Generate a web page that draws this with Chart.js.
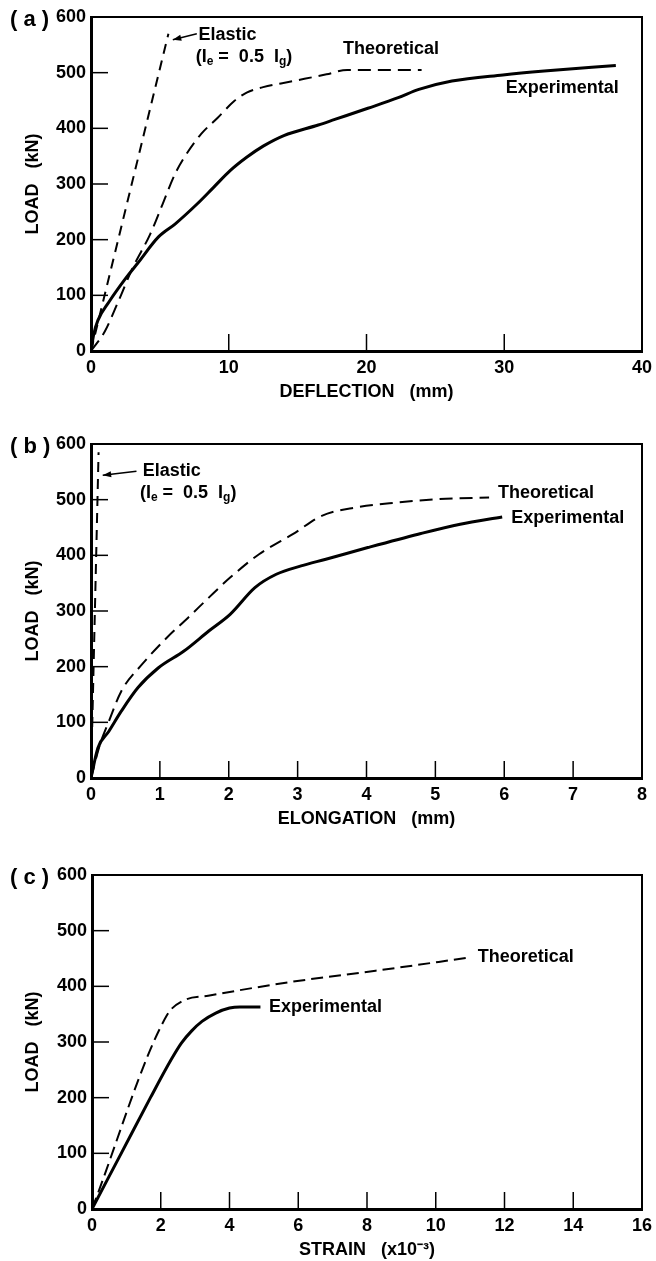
<!DOCTYPE html>
<html>
<head>
<meta charset="utf-8">
<script src="https://cdn.jsdelivr.net/npm/chart.js@4.4.1/dist/chart.umd.min.js"></script>
<style>
  body { margin: 0; background: #fff; width: 656px; height: 1261px; position: relative; overflow: hidden; }
  canvas { position: absolute; left: 0; }
</style>
</head>
<body>
<canvas id="chart-a" width="656" height="403" style="top:0px"></canvas>
<canvas id="chart-b" width="656" height="403" style="top:427px"></canvas>
<canvas id="chart-c" width="656" height="403" style="top:858px"></canvas>
<script>
// (a) load vs deflection
const aExpDefl = [0, 0.2, 0.5, 1.3, 2.5, 3.4, 4.9, 6.1, 7.7, 8.9, 10.1, 11.3, 12.5, 14.0, 16.5, 17.7, 20.1, 22.3, 23.8, 26.2, 29.9, 32.9, 38.1];
const aExpLoad = [0, 30, 55, 88, 130, 158, 205, 228, 264, 294, 324, 348, 368, 387, 406, 416, 436, 455, 470, 485, 496, 503, 513];
const aTheoDefl = [0, 1, 2, 3, 4.3, 5.2, 6.1, 6.75, 8, 9.2, 10.4, 11.3, 12.5, 14.7, 17.1, 18.6, 24];
const aTheoLoad = [0, 35, 90, 148, 210, 264, 318, 347, 390, 419, 449, 464, 474, 485, 497, 505, 505];
const aElasDefl = [0, 5.62];
const aElasLoad = [0, 570];

// (b) load vs elongation
const bExpElong = [0, 0.1, 0.26, 0.44, 0.68, 0.98, 1.35, 1.71, 2.02, 2.38, 2.69, 3.05, 3.41, 4.02, 4.75, 5.36, 5.97];
const bExpLoad = [0, 54, 84, 120, 162, 198, 228, 264, 294, 342, 366, 381, 393, 414, 438, 456, 469];
const bTheoElong = [0, 0.13, 0.26, 0.44, 0.74, 1.1, 1.41, 1.71, 2.02, 2.44, 2.93, 3.35, 3.84, 4.45, 5.05, 5.78];
const bTheoLoad = [0, 60, 102, 156, 204, 252, 288, 324, 360, 402, 438, 471, 486, 495, 501, 504];
const bElasElong = [0, 0.11];
const bElasLoad = [0, 585];

// (c) load vs strain (x10^-3)
const cExpStrain = [0, 0.85, 1.7, 2.3, 2.6, 2.9, 3.2, 3.6, 4.0, 4.3, 4.9];
const cExpLoad = [0, 100, 200, 268, 298, 320, 337, 352, 361, 363, 363];
const cTheoStrain = [0, 2.17, 2.65, 3.38, 5.8, 8.25, 10.9];
const cTheoLoad = [0, 347, 374, 383, 408, 428, 451];

const FONT = "'Liberation Sans', Arial, Helvetica, sans-serif";

Chart.defaults.font.family = FONT;
Chart.defaults.font.size = 18;
Chart.defaults.font.weight = 'bold';
Chart.defaults.color = '#000';

function pts(xs, ys) {
  return xs.map((v, i) => ({ x: v, y: ys[i] }));
}

function solid(xs, ys) {
  return {
    data: pts(xs, ys),
    borderColor: '#000',
    borderWidth: 3,
    pointRadius: 0,
    cubicInterpolationMode: 'monotone',
    fill: false,
  };
}

function dashed(xs, ys, dash) {
  return {
    data: pts(xs, ys),
    borderColor: '#000',
    borderWidth: 2,
    borderDash: dash,
    pointRadius: 0,
    cubicInterpolationMode: 'monotone',
    fill: false,
  };
}

// box on top/right plus inward tick marks
const frameTicks = {
  id: 'frameTicks',
  afterDatasetsDraw(chart) {
    const { ctx, chartArea, scales } = chart;
    const { left, right, top, bottom } = chartArea;
    ctx.save();
    ctx.strokeStyle = '#000';
    ctx.lineWidth = 2;
    ctx.beginPath();
    ctx.moveTo(left, top);
    ctx.lineTo(right, top);
    ctx.lineTo(right, bottom);
    ctx.stroke();
    ctx.lineWidth = 1.5;
    scales.x.ticks.forEach(t => {
      if (t.value <= scales.x.min || t.value >= scales.x.max) return;
      const px = scales.x.getPixelForValue(t.value);
      ctx.beginPath();
      ctx.moveTo(px, bottom);
      ctx.lineTo(px, bottom - 17);
      ctx.stroke();
    });
    scales.y.ticks.forEach(t => {
      if (t.value <= scales.y.min || t.value >= scales.y.max) return;
      const py = scales.y.getPixelForValue(t.value);
      ctx.beginPath();
      ctx.moveTo(left, py);
      ctx.lineTo(left + 17, py);
      ctx.stroke();
    });
    ctx.restore();
  }
};

function drawRich(ctx, parts, px, py) {
  let cx = px;
  parts.forEach(p => {
    const sub = p[1];
    ctx.font = sub ? 'bold 12px ' + FONT : 'bold 18px ' + FONT;
    ctx.fillText(p[0], cx, sub ? py + 5 : py);
    cx += ctx.measureText(p[0]).width;
  });
}

// text notes and arrows, placed in data units
const notes = {
  id: 'notes',
  afterDraw(chart, args, opts) {
    const { ctx, chartArea, scales } = chart;
    ctx.save();
    ctx.fillStyle = '#000';
    ctx.strokeStyle = '#000';
    ctx.textBaseline = 'middle';
    ctx.textAlign = 'left';
    ctx.font = 'bold 22px ' + FONT;
    ctx.fillText(opts.panel, 10, chartArea.top + 3);
    (opts.items || []).forEach(it => {
      const px = scales.x.getPixelForValue(it.x);
      const py = scales.y.getPixelForValue(it.y);
      if (it.arrowTo) {
        const hx = scales.x.getPixelForValue(it.arrowTo[0]);
        const hy = scales.y.getPixelForValue(it.arrowTo[1]);
        const ang = Math.atan2(hy - py, hx - px);
        ctx.lineWidth = 1.5;
        ctx.beginPath();
        ctx.moveTo(px, py);
        ctx.lineTo(hx, hy);
        ctx.stroke();
        ctx.beginPath();
        ctx.moveTo(hx, hy);
        ctx.lineTo(hx - 9 * Math.cos(ang - 0.35), hy - 9 * Math.sin(ang - 0.35));
        ctx.lineTo(hx - 9 * Math.cos(ang + 0.35), hy - 9 * Math.sin(ang + 0.35));
        ctx.closePath();
        ctx.fill();
      } else {
        drawRich(ctx, it.parts, px, py);
      }
    });
    ctx.restore();
  }
};

const elasticNote = [['(I'], ['e', true], [' =  0.5  I'], ['g', true], [')']];

function createChart(id, cfg) {
  const ctx = document.getElementById(id).getContext('2d');
  return new Chart(ctx, {
    type: 'line',
    data: { datasets: cfg.datasets },
    options: {
      responsive: false,
      animation: false,
      layout: { padding: { top: 17, right: 14, left: 0, bottom: 0 } },
      plugins: {
        legend: { display: false },
        tooltip: { enabled: false },
        notes: { panel: cfg.panel, items: cfg.notes },
      },
      scales: {
        x: {
          type: 'linear',
          min: 0,
          max: cfg.xMax,
          grid: { display: false, drawTicks: false, tickLength: 0 },
          border: { width: 3, color: '#000' },
          ticks: { stepSize: cfg.xStep, padding: 6, maxRotation: 0 },
          title: { display: true, text: cfg.xTitle, padding: { top: 0, bottom: 0 } },
          afterFit: s => { s.height = 52; s.paddingRight = 0; s.paddingLeft = 0; },
        },
        y: {
          type: 'linear',
          min: 0,
          max: 600,
          grid: { display: false, drawTicks: false, tickLength: 0 },
          border: { width: 3, color: '#000' },
          ticks: { stepSize: 100, padding: 5 },
          title: { display: true, text: 'LOAD   (kN)', padding: { top: 22, bottom: 0 } },
          afterFit: s => { s.width = cfg.yWidth; s.paddingTop = 0; s.paddingBottom = 0; },
        },
      },
    },
    plugins: [frameTicks, notes],
  });
}

const chartA = createChart('chart-a', {
  panel: '( a )',
  xMax: 40, xStep: 10, yWidth: 91,
  xTitle: 'DEFLECTION   (mm)',
  datasets: [
    solid(aExpDefl, aExpLoad),
    dashed(aTheoDefl, aTheoLoad, [13, 7]),
    dashed(aElasDefl, aElasLoad, [10, 7]),
  ],
  notes: [
    { x: 7.68, y: 570, arrowTo: [5.94, 559] },
    { x: 7.8, y: 567, parts: [['Elastic']] },
    { x: 7.6, y: 528, parts: elasticNote },
    { x: 18.3, y: 542, parts: [['Theoretical']] },
    { x: 30.1, y: 472, parts: [['Experimental']] },
  ],
});

const chartB = createChart('chart-b', {
  panel: '( b )',
  xMax: 8, xStep: 1, yWidth: 91,
  xTitle: 'ELONGATION   (mm)',
  datasets: [
    solid(bExpElong, bExpLoad),
    dashed(bTheoElong, bTheoLoad, [13, 7]),
    dashed(bElasElong, bElasLoad, [10, 7]),
  ],
  notes: [
    { x: 0.66, y: 551, arrowTo: [0.17, 544] },
    { x: 0.75, y: 551, parts: [['Elastic']] },
    { x: 0.71, y: 512, parts: elasticNote },
    { x: 5.91, y: 512, parts: [['Theoretical']] },
    { x: 6.1, y: 467, parts: [['Experimental']] },
  ],
});

const chartC = createChart('chart-c', {
  panel: '( c )',
  xMax: 16, xStep: 2, yWidth: 92,
  xTitle: 'STRAIN   (x10\u207B\u00B3)',
  datasets: [
    solid(cExpStrain, cExpLoad),
    dashed(cTheoStrain, cTheoLoad, [12, 6]),
  ],
  notes: [
    { x: 11.22, y: 452, parts: [['Theoretical']] },
    { x: 5.15, y: 363, parts: [['Experimental']] },
  ],
});
</script>
</body>
</html>
